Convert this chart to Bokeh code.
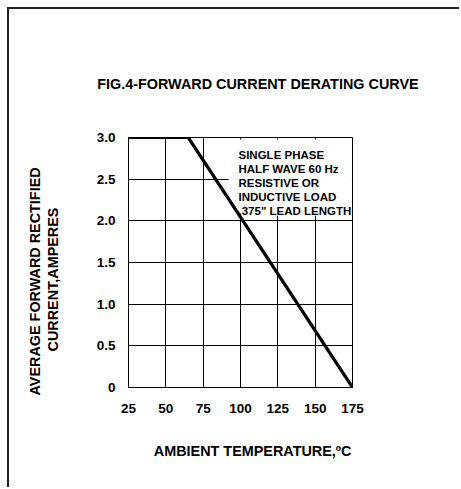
import math
from bokeh.plotting import figure
from bokeh.layouts import row
from bokeh.models import Range1d, Label, FixedTicker, BoxAnnotation, NumeralTickFormatter, Title
from bokeh.embed import file_html
from bokeh.resources import INLINE

# ---- data ----
temps = [25, 65, 175]
current = [3.0, 3.0, 0.0]
x_ticks = [25, 50, 75, 100, 125, 150, 175]
y_ticks = [0, 0.5, 1.0, 1.5, 2.0, 2.5, 3.0]
y_tick_labels = ["0", "0.5", "1.0", "1.5", "2.0", "2.5", "3.0"]
title_text = "FIG.4-FORWARD CURRENT DERATING CURVE"
x_title = "AMBIENT TEMPERATURE,ºC"
y_title = ["AVERAGE FORWARD RECTIFIED", "CURRENT,AMPERES"]
note_lines = ["SINGLE PHASE", "HALF WAVE 60 Hz", "RESISTIVE OR",
              "INDUCTIVE LOAD", '.375" LEAD LENGTH']
note_box = dict(left=92, right=174.6, bottom=2.06, top=2.975)

FONT = "Liberation Sans"
H = 478
LEFT_W = 60

# ---- left strip holding the two-line rotated y-axis title ----
side = figure(width=LEFT_W, height=H, x_range=Range1d(0, 1), y_range=Range1d(0, 1),
              x_axis_type=None, y_axis_type=None, output_backend="svg",
              toolbar_location=None, min_border_left=52, min_border_right=0,
              min_border_top=0, min_border_bottom=0)
side.outline_line_color = None
side.background_fill_color = "white"
side.border_fill_color = "white"
# inner line first (closest to the chart), then the outer line
for txt, off in [(y_title[1], 36), (y_title[0], -8)]:
    side.add_layout(Title(text=txt, text_font=FONT, text_font_style="bold",
                          text_font_size="14.4px", text_color="black",
                          align="left", offset=off, vertical_align="middle",
                          standoff=0), "left")

# ---- main chart ----
p = figure(width=390, height=H, x_range=Range1d(25, 175), y_range=Range1d(0, 3),
           output_backend="svg", toolbar_location=None,
           min_border_left=59, min_border_right=107,
           min_border_top=128, min_border_bottom=100)
p.background_fill_color = "white"
p.border_fill_color = "white"
p.outline_line_color = "black"
p.outline_line_width = 1

p.title.text = title_text
p.title.text_font = FONT
p.title.text_font_style = "bold"
p.title.text_font_size = "14.4px"
p.title.text_color = "black"
p.title.align = "left"
p.title.offset = -31.3
p.title.standoff = 91

for ax in (p.xaxis, p.yaxis):
    ax.major_tick_out = 0
    ax.major_tick_in = 0
    ax.minor_tick_out = 0
    ax.minor_tick_in = 0
    ax.axis_line_color = "black"
    ax.axis_line_width = 1
    ax.major_label_text_font = FONT
    ax.major_label_text_font_style = "bold"
    ax.major_label_text_font_size = "13.5px"
    ax.major_label_text_color = "black"

p.xaxis.ticker = FixedTicker(ticks=x_ticks)
p.yaxis.ticker = FixedTicker(ticks=y_ticks)
p.yaxis.formatter = NumeralTickFormatter(format="0.0")
p.yaxis.major_label_overrides = {0: y_tick_labels[0]}
p.xaxis.major_label_standoff = 16
p.yaxis.major_label_standoff = 13

p.xgrid.ticker = FixedTicker(ticks=x_ticks)
p.ygrid.ticker = FixedTicker(ticks=y_ticks)
for g in (p.xgrid, p.ygrid):
    g.grid_line_color = "black"
    g.grid_line_alpha = 1
    g.grid_line_width = 1

box = BoxAnnotation(fill_color="white", fill_alpha=1, line_color=None,
                    level="underlay", **note_box)
p.add_layout(box)

p.line(temps, current, line_width=3.2, line_color="black")

xt = Title(text=x_title, text_font=FONT, text_font_style="bold", text_font_size="14.4px",
           text_color="black", align="left", offset=25.3, standoff=50)
p.add_layout(xt, "below")

for i, t in enumerate(note_lines):
    p.add_layout(Label(x=25, y=3, x_offset=110, y_offset=-(17 + 14 * i), text=t,
                       text_font=FONT, text_font_style="bold", text_font_size="11.5px",
                       text_color="black", text_align="left", text_baseline="alphabetic"))

layout = row(side, p)
layout.styles = {"margin-left": "7px", "margin-top": "7px",
                 "border-left": "2px solid #222", "border-top": "2px solid #222"}

open("out.html", "w").write(file_html(layout, INLINE))
